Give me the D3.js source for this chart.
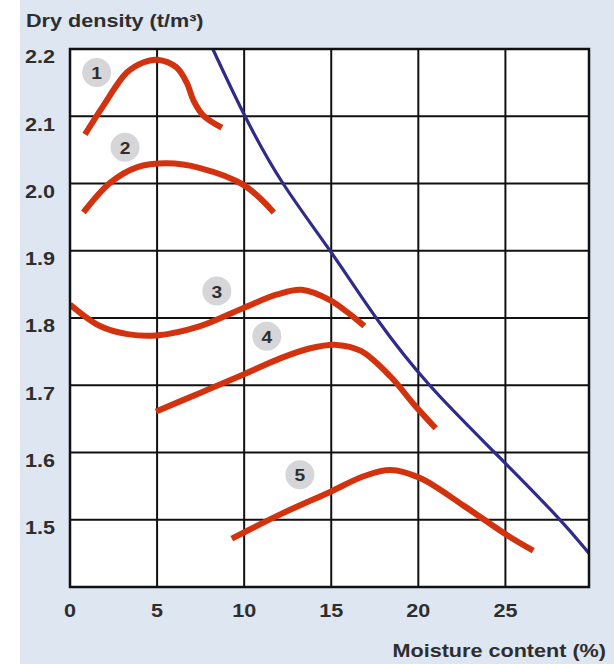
<!DOCTYPE html>
<html>
<head>
<meta charset="utf-8">
<script src="https://cdn.jsdelivr.net/npm/d3@7"></script>
<style>
  html, body { margin: 0; padding: 0; background: #ffffff; }
  svg { display: block; }
  text { font-family: "Liberation Sans", Arial, Helvetica, sans-serif; font-weight: bold; fill: #2e2e2e; }
</style>
</head>
<body>
<script>
// ---- Data ----
const xTicks = [0, 5, 10, 15, 20, 25];
const yTicks = [1.5, 1.6, 1.7, 1.8, 1.9, 2.0, 2.1, 2.2];
const xDomain = [0, 29.8];
const yDomain = [1.4, 2.2];

const curve1 = [[0.86,2.073],[1.9,2.115],[3.26,2.165],[4.2,2.180],[5.0,2.184],[6.1,2.173],[6.7,2.150],[7.1,2.123],[7.66,2.101],[8.72,2.083]];
const curve2 = [[0.77,1.957],[2.3,2.001],[3.83,2.024],[5.56,2.030],[7.47,2.023],[9.96,1.998],[11.7,1.957]];
const curve3 = [[0,1.820],[1.72,1.788],[3.3,1.776],[4.94,1.774],[7.47,1.788],[9.96,1.815],[11.9,1.835],[13.3,1.842],[14.9,1.827],[16.1,1.805],[16.9,1.788]];
const curve4 = [[4.94,1.661],[7.5,1.689],[9.96,1.716],[12.07,1.740],[13.8,1.755],[15.3,1.760],[16.7,1.751],[18.4,1.713],[19.7,1.673],[21.0,1.636]];
const curve5 = [[9.29,1.472],[12.07,1.508],[14.9,1.541],[16.9,1.565],[18.4,1.574],[20.1,1.562],[22.6,1.521],[25.1,1.477],[26.6,1.454]];
const saturationLine = [[8.2,2.2],[10,2.1],[12.1,2.0],[15,1.9],[17.5,1.8],[20.5,1.7],[24.4,1.6],[28.2,1.5],[29.8,1.45]];

const curveLabels = ["1", "2", "3", "4", "5"];
const labelX = [1.53, 3.16, 8.43, 11.3, 13.2];
const labelY = [2.165, 2.054, 1.84, 1.773, 1.567];

const titleY = "Dry density (t/m³)";
const titleX = "Moisture content (%)";

// ---- Layout ----
const W = 614, H = 664;
const STRETCH = 1.2; // reference text is horizontally widened
const svg = d3.select("body").append("svg").attr("width", W).attr("height", H);

function addText(g, px, py, str, size, anchor, baseline) {
  return g.append("text")
    .attr("transform", `translate(${px},${py}) scale(${STRETCH},1)`)
    .attr("text-anchor", anchor || "start")
    .attr("dominant-baseline", baseline || "auto")
    .attr("font-size", size)
    .text(str);
}

svg.append("rect").attr("x", 0).attr("y", 0).attr("width", W).attr("height", H).attr("fill", "#ffffff");
svg.append("rect").attr("x", 20).attr("y", 0).attr("width", W - 20).attr("height", H).attr("fill", "#dde6f1");

const x = d3.scaleLinear().domain(xDomain).range([70, 589]);
const y = d3.scaleLinear().domain(yDomain).range([587, 49]);

// plot background
svg.append("rect")
  .attr("x", x(xDomain[0])).attr("y", y(yDomain[1]))
  .attr("width", x(xDomain[1]) - x(xDomain[0]))
  .attr("height", y(yDomain[0]) - y(yDomain[1]))
  .attr("fill", "#ffffff");

// grid
const grid = svg.append("g");
grid.selectAll("line.v").data(xTicks.filter(d => d > xDomain[0])).join("line")
  .attr("class", "v")
  .attr("x1", d => x(d)).attr("x2", d => x(d))
  .attr("y1", y(yDomain[0])).attr("y2", y(yDomain[1]))
  .attr("stroke", "#111").attr("stroke-width", 2);
grid.selectAll("line.h").data(yTicks.filter(d => d < yDomain[1])).join("line")
  .attr("class", "h")
  .attr("y1", d => y(d)).attr("y2", d => y(d))
  .attr("x1", x(xDomain[0])).attr("x2", x(xDomain[1]))
  .attr("stroke", "#111").attr("stroke-width", 2);

// clip
svg.append("clipPath").attr("id", "plotclip").append("rect")
  .attr("x", x(xDomain[0])).attr("y", y(yDomain[1]))
  .attr("width", x(xDomain[1]) - x(xDomain[0]))
  .attr("height", y(yDomain[0]) - y(yDomain[1]));

const line = d3.line().x(d => x(d[0])).y(d => y(d[1])).curve(d3.curveCatmullRom.alpha(0.5));
const smoothLine = d3.line().x(d => x(d[0])).y(d => y(d[1])).curve(d3.curveBasis);

svg.append("path").datum(saturationLine)
  .attr("clip-path", "url(#plotclip)")
  .attr("d", smoothLine).attr("fill", "none")
  .attr("stroke", "#2f2b8a").attr("stroke-width", 3.2);

[curve1, curve2, curve3, curve4, curve5].forEach(c => {
  svg.append("path").datum(c)
    .attr("clip-path", "url(#plotclip)")
    .attr("d", line).attr("fill", "none")
    .attr("stroke", "#d2320e").attr("stroke-width", 6)
    .attr("stroke-linecap", "butt").attr("stroke-linejoin", "round");
});

// border
svg.append("rect")
  .attr("x", x(xDomain[0])).attr("y", y(yDomain[1]))
  .attr("width", x(xDomain[1]) - x(xDomain[0]))
  .attr("height", y(yDomain[0]) - y(yDomain[1]))
  .attr("fill", "none").attr("stroke", "#111").attr("stroke-width", 2.5);

// curve labels
const lab = svg.append("g");
curveLabels.forEach((t, i) => {
  lab.append("circle").attr("cx", x(labelX[i])).attr("cy", y(labelY[i])).attr("r", 14.5)
    .attr("fill", "#d6d6d9");
  addText(lab, x(labelX[i]), y(labelY[i]) + 1, t, 16, "middle", "central");
});

// y tick labels
const yl = svg.append("g");
yTicks.forEach(d => addText(yl, 55, y(d) + 8, d3.format(".1f")(d), 18, "end", "central"));

// x tick labels
const xl = svg.append("g");
xTicks.forEach(d => addText(xl, x(d), 611, String(d), 18, "middle", "central"));

// titles
addText(svg, 26, 27, titleY, 18, "start");
addText(svg, 606, 657, titleX, 18, "end");
</script>
</body>
</html>
